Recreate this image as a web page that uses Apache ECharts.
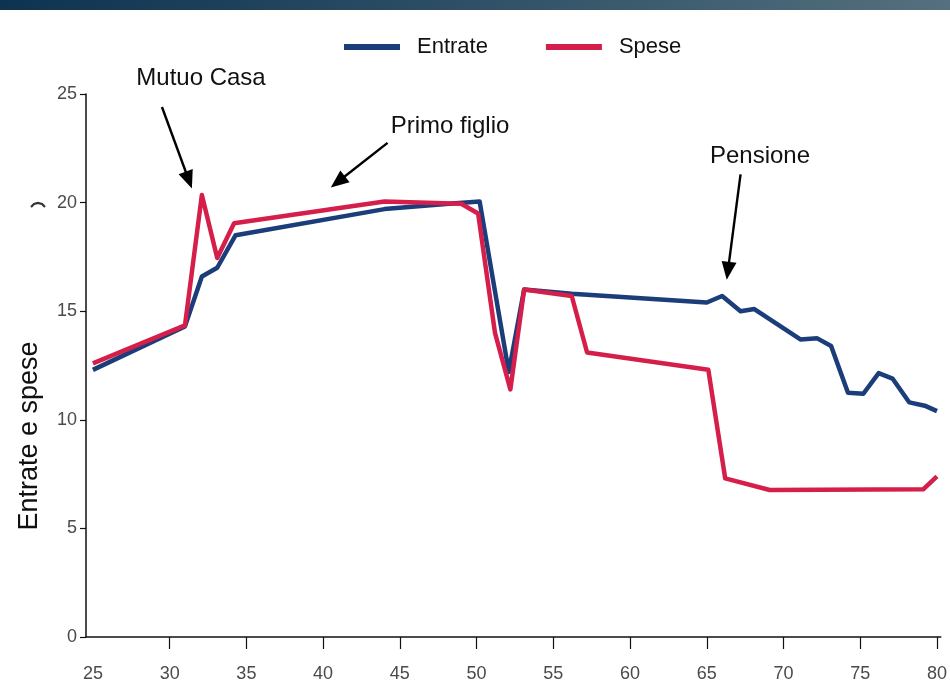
<!DOCTYPE html>
<html>
<head>
<meta charset="utf-8">
<script src="https://cdn.jsdelivr.net/npm/echarts@6/dist/echarts.min.js"></script>
<style>
  html, body { margin: 0; padding: 0; background: #ffffff; }
  #chart { width: 950px; height: 686px; }
</style>
</head>
<body>
<div id="chart"></div>
<script>
// Età (anni) e valori delle entrate
const etaEntrate = [25, 31, 32.1, 33.1, 34.3, 44, 48.2, 50.2, 52.1, 53.1, 56.2, 65, 66, 67.2, 68.1, 71.1, 72.2, 73.1, 74.2, 75.2, 76.2, 77.1, 78.2, 79.2, 80];
const entrate    = [12.3, 14.3, 16.6, 17.0, 18.5, 19.7, 19.95, 20.05, 12.2, 16.0, 15.8, 15.4, 15.7, 15.0, 15.1, 13.7, 13.75, 13.4, 11.25, 11.2, 12.15, 11.9, 10.8, 10.65, 10.4];

// Età (anni) e valori delle spese
const etaSpese = [25, 31, 32.1, 33.1, 34.2, 44, 49, 50.1, 51.2, 52.2, 53.1, 56.2, 57.2, 65.1, 66.2, 69.1, 79.1, 80];
const spese    = [12.6, 14.35, 20.35, 17.45, 19.05, 20.05, 19.95, 19.5, 14.0, 11.4, 16.0, 15.7, 13.1, 12.3, 7.3, 6.77, 6.8, 7.4];

// Etichette degli assi
const tickEta = [25, 30, 35, 40, 45, 50, 55, 60, 65, 70, 75, 80];
const tickEtaSegni = [30, 35, 40, 45, 50, 55, 60, 65, 70, 75, 80];
const tickValori = [0, 5, 10, 15, 20, 25];

// Note con freccia: testo, posizione del testo, partenza e punta della freccia (età/valore)
const note = [
  { testo: 'Mutuo Casa',   x: 201, y: 78,  da: [29.5, 24.4],  a: [31.45, 20.65] },
  { testo: 'Primo figlio', x: 450, y: 126, da: [44.2, 22.75], a: [40.5, 20.7] },
  { testo: 'Pensione',     x: 760, y: 156, da: [67.2, 21.3],  a: [66.3, 16.45] }
];

const BLU = '#1b3d7a';
const ROSSO = '#d51f4a';
const SANS = '"Liberation Sans", Arial, Helvetica, sans-serif';

const zip = (xs, ys) => xs.map((x, i) => [x, ys[i]]);

const chart = echarts.init(document.getElementById('chart'), null, { renderer: 'canvas' });

chart.setOption({
  animation: false,
  backgroundColor: '#ffffff',
  grid: { left: 86, right: 0, top: 94, bottom: 49, containLabel: false },
  legend: {
    left: 339, top: 31,
    icon: 'rect',
    itemWidth: 56, itemHeight: 6,
    itemGap: 58,
    textStyle: { fontFamily: SANS, fontSize: 22, color: '#111', padding: [0, 0, 0, 12] },
    data: ['Entrate', 'Spese']
  },
  xAxis: {
    type: 'value',
    min: 24.55, max: 80.25,
    axisLine: { show: true, lineStyle: { color: '#111', width: 1.5 } },
    axisTick: { show: true, customValues: tickEtaSegni, length: 12, lineStyle: { color: '#111', width: 1.2 } },
    axisLabel: { customValues: tickEta, fontFamily: SANS, fontSize: 18, color: '#4a4a4a', margin: 28 },
    splitLine: { show: false }
  },
  yAxis: {
    type: 'value',
    min: 0, max: 25, interval: 5,
    axisLine: { show: true, lineStyle: { color: '#111', width: 1.5 } },
    axisTick: { show: true, length: 6, lineStyle: { color: '#111', width: 1.2 } },
    axisLabel: { customValues: tickValori, fontFamily: SANS, fontSize: 18, color: '#4a4a4a', margin: 9 },
    splitLine: { show: false }
  },
  series: [
    {
      name: 'Entrate', type: 'line', data: zip(etaEntrate, entrate),
      symbol: 'none', color: BLU,
      lineStyle: { width: 4.5, color: BLU, join: 'round' }
    },
    {
      name: 'Spese', type: 'line', data: zip(etaSpese, spese),
      symbol: 'none', color: ROSSO,
      lineStyle: { width: 4.5, color: ROSSO, join: 'round' }
    }
  ]
});

// Freccia: asta e punta triangolare
function freccia(p0, p1) {
  const dx = p1[0] - p0[0], dy = p1[1] - p0[1];
  const len = Math.hypot(dx, dy);
  const ux = dx / len, uy = dy / len;
  const L = 18, W = 7.5;
  const bx = p1[0] - ux * L, by = p1[1] - uy * L;
  return [
    { type: 'line', shape: { x1: p0[0], y1: p0[1], x2: bx + ux * 2, y2: by + uy * 2 },
      style: { stroke: '#000', lineWidth: 2.4 }, z: 10 },
    { type: 'polygon', shape: { points: [[p1[0], p1[1]], [bx - uy * W, by + ux * W], [bx + uy * W, by - ux * W]] },
      style: { fill: '#000' }, z: 10 }
  ];
}

// Banda del titolo, titolo dell'asse verticale e note
const grafica = [
  {
    type: 'rect', shape: { x: 0, y: 0, width: 950, height: 10 },
    style: { fill: new echarts.graphic.LinearGradient(0, 0, 1, 0, [
      { offset: 0, color: '#0e3350' }, { offset: 0.5, color: '#2f5066' }, { offset: 1, color: '#55707f' }
    ]) }, z: 5
  },
  {
    type: 'text', x: 30, y: 436, rotation: Math.PI / 2, z: 10,
    style: { text: 'Entrate e spese', fontFamily: SANS, fontSize: 27, fill: '#111', align: 'center', verticalAlign: 'middle' }
  },
  {
    type: 'polyline', shape: { points: [[31, 207], [34, 204], [38, 203], [42, 204], [45, 207]] },
    style: { stroke: '#333', lineWidth: 2.2, fill: null }, z: 10
  }
];
note.forEach(n => {
  const p0 = chart.convertToPixel({ gridIndex: 0 }, n.da);
  const p1 = chart.convertToPixel({ gridIndex: 0 }, n.a);
  grafica.push(...freccia(p0, p1));
  grafica.push({
    type: 'text', x: n.x, y: n.y, z: 10,
    style: { text: n.testo, fontFamily: SANS, fontSize: 24, fill: '#111', align: 'center', verticalAlign: 'middle' }
  });
});
chart.setOption({ graphic: grafica });
</script>
</body>
</html>
